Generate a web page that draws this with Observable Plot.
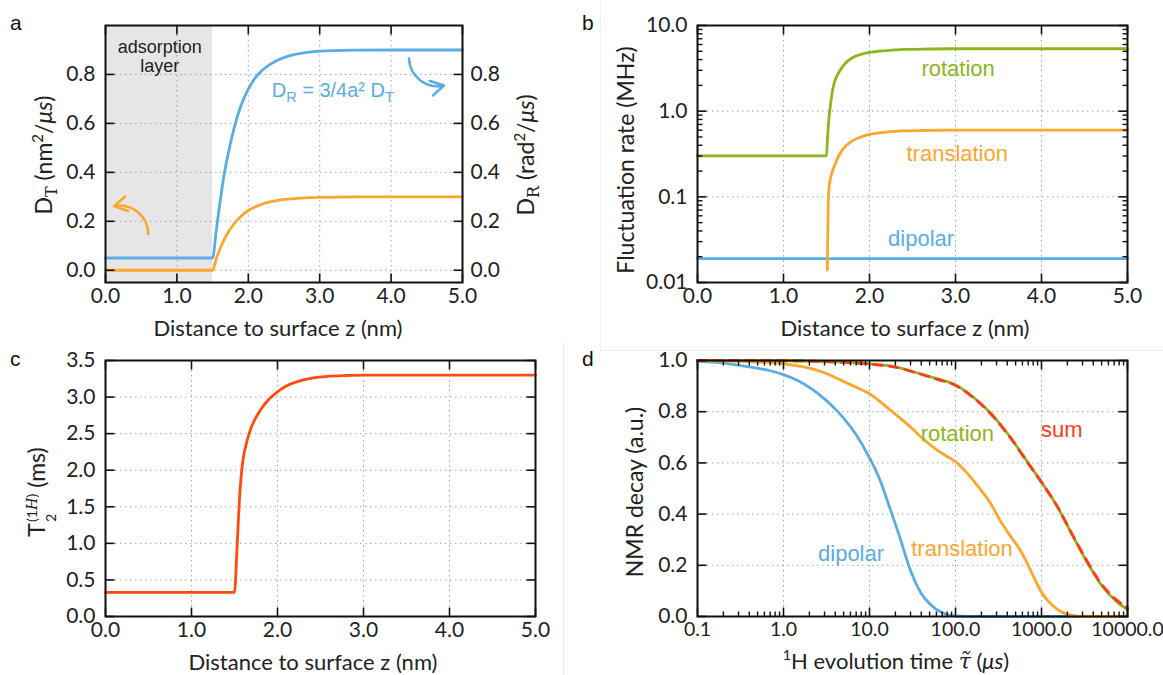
<!DOCTYPE html>
<html><head><meta charset="utf-8">
<script src="https://cdn.jsdelivr.net/npm/d3@7"></script>
<script src="https://cdn.jsdelivr.net/npm/@observablehq/plot@0.6"></script>
<style>
body{margin:0;background:#fff;}
#fig{position:relative;width:1163px;height:675px;overflow:hidden;background:#fff;}
.pl{position:absolute;}
.pl svg{overflow:visible;}
.lab{position:absolute;font-family:Lato,sans-serif;font-size:22px;color:#222;white-space:nowrap;transform:translate(-50%,-50%);line-height:1;}
.rot{transform:translate(-50%,-50%) rotate(-90deg);font-size:23px;}
.ann{position:absolute;font-family:"Liberation Sans",Arial,sans-serif;white-space:nowrap;transform:translate(-50%,-50%);line-height:1;}
.letter{position:absolute;font-family:"Liberation Sans",Arial,sans-serif;font-size:21px;color:#111;line-height:1;}
.sep{position:absolute;background:#efefef;}
sub,sup{line-height:0;}
.ss{display:inline-flex;flex-direction:column;font-size:0.62em;vertical-align:0.5em;line-height:1.3;margin-left:1px;}
</style></head><body><div id="fig"></div>
<script>
// ---------- data ----------
const zTicks = [0, 1, 2, 3, 4, 5];
const zTickLabels = ["0.0", "1.0", "2.0", "3.0", "4.0", "5.0"];
const dTicks = [0, 0.2, 0.4, 0.6, 0.8];
const dTickLabels = ["0.0", "0.2", "0.4", "0.6", "0.8"];
const rateTicks = [0.01, 0.1, 1, 10];
const rateTickLabels = ["0.01", "0.1", "1.0", "10.0"];
const t2Ticks = [0, 0.5, 1, 1.5, 2, 2.5, 3, 3.5];
const t2TickLabels = ["0.0", "0.5", "1.0", "1.5", "2.0", "2.5", "3.0", "3.5"];
const tauTicks = [0.1, 1, 10, 100, 1000, 10000];
const tauTickLabels = ["0.1", "1.0", "10.0", "100.0", "1000.0", "10000.0"];
const decayTicks = [0, 0.2, 0.4, 0.6, 0.8, 1.0];
const decayTickLabels = ["0.0", "0.2", "0.4", "0.6", "0.8", "1.0"];

// panel a: diffusion coefficients vs distance
const zA = [0, 1.5, 1.55, 1.6, 1.65, 1.7, 1.8, 1.9, 2.0, 2.1, 2.2, 2.3, 2.4, 2.6, 2.8, 3.0, 3.5, 4.0, 5.0];
const diffT = [0, 0, 0.046, 0.085, 0.118, 0.146, 0.19, 0.221, 0.244, 0.259, 0.271, 0.279, 0.285, 0.292, 0.296, 0.298, 0.3, 0.3, 0.3];
const diffR = [0.05, 0.05, 0.16, 0.27, 0.37, 0.45, 0.58, 0.675, 0.74, 0.787, 0.818, 0.84, 0.857, 0.878, 0.889, 0.895, 0.899, 0.9, 0.9];
const layerSpan = [0, 1.5];

// panel b: fluctuation rates
const zRot = [0, 1.5, 1.51, 1.52, 1.53, 1.54, 1.56, 1.58, 1.6, 1.65, 1.7, 1.8, 1.9, 2.0, 2.2, 2.4, 2.7, 3.0, 5.0];
const rateRot = [0.3, 0.3, 0.45, 0.65, 0.85, 1.05, 1.5, 1.95, 2.3, 2.9, 3.45, 4.2, 4.6, 4.85, 5.1, 5.25, 5.32, 5.35, 5.35];
const zTra = [1.51, 1.515, 1.52, 1.53, 1.55, 1.6, 1.65, 1.7, 1.8, 1.9, 2.0, 2.2, 2.4, 2.6, 3.0, 5.0];
const rateTra = [0.014, 0.04, 0.08, 0.13, 0.17, 0.24, 0.31, 0.37, 0.45, 0.5, 0.535, 0.57, 0.588, 0.595, 0.6, 0.6];
const zDip = [0, 5];
const rateDip = [0.019, 0.019];

// panel c: T2
const zT2 = [0, 1.5, 1.51, 1.52, 1.54, 1.56, 1.58, 1.6, 1.65, 1.7, 1.8, 1.9, 2.0, 2.1, 2.2, 2.4, 2.6, 2.8, 3.0, 5.0];
const t2 = [0.33, 0.33, 0.45, 0.7, 1.2, 1.65, 1.95, 2.15, 2.42, 2.6, 2.82, 2.97, 3.07, 3.15, 3.2, 3.26, 3.285, 3.295, 3.3, 3.3];

// panel d: NMR decays
const tauDip = [0.1, 0.2, 0.4, 0.7, 1, 1.5, 2, 3, 4, 5, 7, 10, 13, 17, 22, 30, 40, 50, 70, 100, 200, 10000];
const decayDip = [0.997, 0.99, 0.975, 0.96, 0.945, 0.92, 0.895, 0.85, 0.81, 0.775, 0.71, 0.62, 0.54, 0.43, 0.32, 0.18, 0.09, 0.05, 0.015, 0.002, 0, 0];
const tauTra = [0.1, 0.3, 1, 2, 3, 5, 7, 10, 15, 20, 30, 40, 60, 80, 100, 130, 170, 250, 340, 460, 560, 700, 1000, 1500, 2300, 3000, 10000];
const decayTra = [1.0, 0.997, 0.987, 0.97, 0.952, 0.918, 0.895, 0.87, 0.825, 0.79, 0.74, 0.7, 0.652, 0.625, 0.605, 0.568, 0.522, 0.447, 0.368, 0.303, 0.262, 0.2, 0.095, 0.03, 0.004, 0.0, 0.0];
const tauRot = [0.1, 1, 5, 10, 20, 34, 62, 94, 153, 250, 420, 690, 1000, 1500, 2300, 3400, 5000, 7600, 10000];
const decayRot = [1.0, 0.999, 0.993, 0.987, 0.975, 0.954, 0.928, 0.909, 0.863, 0.798, 0.707, 0.603, 0.525, 0.434, 0.316, 0.212, 0.121, 0.056, 0.027];
const tauSum = [0.1, 1, 5, 10, 20, 34, 62, 94, 153, 250, 420, 690, 1000, 1500, 2300, 3400, 5000, 7600, 10000];
const decaySum = [1.0, 0.999, 0.993, 0.986, 0.974, 0.953, 0.926, 0.907, 0.861, 0.796, 0.705, 0.601, 0.524, 0.434, 0.318, 0.215, 0.126, 0.062, 0.034];

// annotations (data units)
const layerLabel = [{x: 0.76, y: 0.91, text: "adsorption"}, {x: 0.76, y: 0.835, text: "layer"}];
const eqPos = [3.19, 0.735];
const arrowBlue = [{x1: 4.25, y1: 0.865, x2: 4.74, y2: 0.755}];
const arrowOrange = [{x1: 0.6, y1: 0.148, x2: 0.12, y2: 0.262}];
const labelsB = [
  {x: 3.03, y: 3.1, text: "rotation", series: "rot"},
  {x: 3.02, y: 0.32, text: "translation", series: "tra"},
  {x: 2.6, y: 0.032, text: "dipolar", series: "dip"}
];
const labelsD = [
  {x: 6.1, y: 0.245, text: "dipolar", series: "dip"},
  {x: 119, y: 0.264, text: "translation", series: "tra"},
  {x: 105, y: 0.714, text: "rotation", series: "rot"},
  {x: 1720, y: 0.727, text: "sum", series: "sum"}
];

// ---------- style ----------
const BLUE = "#5aace6", ORANGE = "#fca62e", GREEN = "#8cb61c", RED = "#ff4a10", SUMRED = "#ff3b1a";
const colorOf = {rot: GREEN, tra: ORANGE, dip: BLUE, sum: SUMRED};
const FONT = "Lato, 'Open Sans', sans-serif";
const ANNFONT = "'Liberation Sans', Arial, sans-serif";
const LW = 2.8;
const gridStyle = {stroke: "#9a9a9a", strokeOpacity: 0.9, strokeWidth: 1, strokeDasharray: "1.5,3.5"};

const fig = document.getElementById("fig");
const zip = (xs, ys, k1, k2) => xs.map((x, i) => ({[k1]: x, [k2]: ys[i]}));
const fmt = (ticks, labels) => d => labels[ticks.findIndex(t => Math.abs(t - d) < 1e-9 * Math.max(1, Math.abs(t)))];
function logMinor(lo, hi) {
  const out = [];
  for (let e = Math.round(Math.log10(lo)); e < Math.round(Math.log10(hi)); e++) for (let k = 2; k <= 9; k++) out.push(k * Math.pow(10, e));
  return out;
}
// value located a given fraction along a scale domain (for pixel-length inward ticks)
const along = (type, [a, b], f) => type === "log" ? a * Math.pow(b / a, f) : a + (b - a) * f;
function frameTicks({xT, yT, xs, ys, iw, ih, len, sw = 1.6}) {
  const s = {stroke: "#111", strokeWidth: sw};
  const out = [];
  const [ya, yb] = ys.domain, [xa, xb] = xs.domain;
  const yLo = along(ys.type, ys.domain, len / ih), yHi = along(ys.type, ys.domain, 1 - len / ih);
  const xLo = along(xs.type, xs.domain, len / iw), xHi = along(xs.type, xs.domain, 1 - len / iw);
  if (xT) {
    out.push(Plot.link(xT, {x1: d => d, x2: d => d, y1: () => ya, y2: () => yLo, ...s}));
    out.push(Plot.link(xT, {x1: d => d, x2: d => d, y1: () => yHi, y2: () => yb, ...s}));
  }
  if (yT) {
    out.push(Plot.link(yT, {y1: d => d, y2: d => d, x1: () => xa, x2: () => xLo, ...s}));
    out.push(Plot.link(yT, {y1: d => d, y2: d => d, x1: () => xHi, x2: () => xb, ...s}));
  }
  return out;
}
function base(w, h, m) {
  return {width: w, height: h, marginTop: m[0], marginRight: m[1], marginBottom: m[2], marginLeft: m[3],
    style: {fontFamily: FONT, fontSize: "21px", color: "#222", background: "transparent", overflow: "visible"}};
}
function place(svg, left, top) {
  const d = document.createElement("div");
  d.className = "pl"; d.style.left = left + "px"; d.style.top = top + "px";
  d.appendChild(svg); fig.appendChild(d);
}
function addHTML(cls, html, x, y, extra = "") {
  const d = document.createElement("div");
  d.className = cls; d.innerHTML = html;
  d.style.cssText += `left:${x}px;top:${y}px;` + extra;
  fig.appendChild(d);
  return d;
}
function xAxisLabels(ticks, labels, size = 21) {
  return Plot.axisX(ticks, {tickSize: 0, tickPadding: 6, tickFormat: fmt(ticks, labels), label: null, fill: "#222", fontSize: size});
}
function yAxisLabels(ticks, labels, anchor = "left", pad = 10) {
  return Plot.axisY(ticks, {anchor, tickSize: 0, tickPadding: pad, tickFormat: fmt(ticks, labels), label: null, fill: "#222"});
}

// faint image borders
addHTML("sep", "", 600, 0, "width:1px;height:350px;");
addHTML("sep", "", 600, 350, "width:563px;height:1px;");
addHTML("sep", "", 563, 342, "width:1px;height:333px;");

// ---------- panel a ----------
{
  const W = 580, H = 340, M = [25, 118, 58, 105];
  const iw = W - M[1] - M[3], ih = H - M[0] - M[2];
  const xs = {type: "linear", domain: [0, 5]}, ys = {type: "linear", domain: [-0.05, 1.0]};
  const plotA = Plot.plot({
    ...base(W, H, M),
    x: {...xs, axis: null},
    y: {...ys, axis: null},
    marks: [
      Plot.rect([layerSpan], {x1: d => d[0], x2: d => d[1], y1: d => ys.domain[0], y2: d => ys.domain[1], fill: "#e6e6e6"}),
      Plot.gridX(zTicks, gridStyle),
      Plot.gridY(dTicks, gridStyle),
      Plot.line(zip(zA, diffT, "z", "v"), {x: "z", y: "v", stroke: ORANGE, strokeWidth: LW, curve: "monotone-x"}),
      Plot.line(zip(zA, diffR, "z", "v"), {x: "z", y: "v", stroke: BLUE, strokeWidth: LW, curve: "monotone-x"}),
      Plot.text(layerLabel, {x: "x", y: "y", text: "text", fontFamily: ANNFONT, fontSize: 18, fill: "#222"}),
      Plot.arrow(arrowBlue, {x1: "x1", y1: "y1", x2: "x2", y2: "y2", bend: -50, stroke: BLUE, strokeWidth: 2.6, headLength: 9}),
      Plot.arrow(arrowOrange, {x1: "x1", y1: "y1", x2: "x2", y2: "y2", bend: -50, stroke: ORANGE, strokeWidth: 2.6, headLength: 9}),
      ...frameTicks({xT: zTicks, yT: dTicks, xs, ys, iw, ih, len: 9}),
      Plot.frame({stroke: "#111", strokeWidth: 2}),
      xAxisLabels(zTicks, zTickLabels),
      yAxisLabels(dTicks, dTickLabels, "left", 10),
      yAxisLabels(dTicks, dTickLabels, "right", 8)
    ]
  });
  place(plotA, 0, 0);
  const ex = plotA.scale("x").apply(eqPos[0]), ey = plotA.scale("y").apply(eqPos[1]);
  addHTML("ann", `D<sub style="font-size:0.72em">R</sub> = 3/4a² D<sub style="font-size:0.72em">T</sub>`, ex, ey, `font-size:20px;color:${BLUE};`);
  addHTML("lab rot", `D<sub style="font-family:'DejaVu Serif',serif;font-size:0.7em">T</sub> (nm<sup style="font-size:0.65em">2</sup>/<i>μs</i>)`, 43, 155);
  addHTML("lab rot", `D<sub style="font-family:'DejaVu Serif',serif;font-size:0.7em">R</sub> (rad<sup style="font-size:0.65em">2</sup>/<i>μs</i>)`, 525, 155);
  addHTML("lab", "Distance to surface z (nm)", 278, 328);
  addHTML("letter", "a", 10, 12);
}

// ---------- panel b ----------
{
  const W = 583, H = 340, M = [25, 36, 58, 117];
  const iw = W - M[1] - M[3], ih = H - M[0] - M[2];
  const xs = {type: "linear", domain: [0, 5]}, ys = {type: "log", domain: [0.01, 10]};
  const minor = logMinor(0.01, 10);
  const plotB = Plot.plot({
    ...base(W, H, M),
    x: {...xs, axis: null},
    y: {...ys, axis: null},
    marks: [
      Plot.gridX(zTicks, gridStyle),
      Plot.gridY(rateTicks, gridStyle),
      Plot.line(zip(zDip, rateDip, "z", "v"), {x: "z", y: "v", stroke: BLUE, strokeWidth: LW}),
      Plot.line(zip(zTra, rateTra, "z", "v"), {x: "z", y: "v", stroke: ORANGE, strokeWidth: LW, curve: "monotone-x"}),
      Plot.line(zip(zRot, rateRot, "z", "v"), {x: "z", y: "v", stroke: GREEN, strokeWidth: LW, curve: "monotone-x"}),
      ...labelsB.map(l => Plot.text([l], {x: "x", y: "y", text: "text", fill: colorOf[l.series], fontFamily: ANNFONT, fontSize: 22})),
      ...frameTicks({xT: zTicks, yT: rateTicks, xs, ys, iw, ih, len: 9}),
      ...frameTicks({yT: minor, xs, ys, iw, ih, len: 5, sw: 1.4}),
      Plot.frame({stroke: "#111", strokeWidth: 2}),
      xAxisLabels(zTicks, zTickLabels),
      yAxisLabels(rateTicks, rateTickLabels, "left", 10)
    ]
  });
  place(plotB, 580, 0);
  addHTML("lab rot", "Fluctuation rate (MHz)", 625, 160);
  addHTML("lab", "Distance to surface z (nm)", 905, 328);
  addHTML("letter", "b", 582, 12);
}

// ---------- panel c ----------
{
  const W = 580, H = 340, M = [25, 45, 59, 105];
  const iw = W - M[1] - M[3], ih = H - M[0] - M[2];
  const xs = {type: "linear", domain: [0, 5]}, ys = {type: "linear", domain: [0, 3.5]};
  const plotC = Plot.plot({
    ...base(W, H, M),
    x: {...xs, axis: null},
    y: {...ys, axis: null},
    marks: [
      Plot.gridX(zTicks, gridStyle),
      Plot.gridY(t2Ticks, gridStyle),
      Plot.line(zip(zT2, t2, "z", "v"), {x: "z", y: "v", stroke: RED, strokeWidth: LW, curve: "monotone-x"}),
      ...frameTicks({xT: zTicks, yT: t2Ticks, xs, ys, iw, ih, len: 9}),
      Plot.frame({stroke: "#111", strokeWidth: 2}),
      xAxisLabels(zTicks, zTickLabels),
      yAxisLabels(t2Ticks, t2TickLabels, "left", 10)
    ]
  });
  place(plotC, 0, 335);
  addHTML("lab rot", `T<span class="ss"><span>(1<i style="font-family:'DejaVu Serif',serif">H</i>)</span><span>2</span></span> (ms)`, 42, 492);
  addHTML("lab", "Distance to surface z (nm)", 313, 662);
  addHTML("letter", "c", 10, 348);
}

// ---------- panel d ----------
{
  const W = 583, H = 340, M = [25, 36, 59, 117];
  const iw = W - M[1] - M[3], ih = H - M[0] - M[2];
  const xs = {type: "log", domain: [0.1, 10000]}, ys = {type: "linear", domain: [0, 1]};
  const minor = logMinor(0.1, 10000);
  const plotD = Plot.plot({
    ...base(W, H, M),
    x: {...xs, axis: null},
    y: {...ys, axis: null},
    marks: [
      Plot.gridX(tauTicks, gridStyle),
      Plot.gridY(decayTicks, gridStyle),
      Plot.line(zip(tauDip, decayDip, "t", "v"), {x: "t", y: "v", stroke: BLUE, strokeWidth: LW, curve: "monotone-x"}),
      Plot.line(zip(tauTra, decayTra, "t", "v"), {x: "t", y: "v", stroke: ORANGE, strokeWidth: LW, curve: "monotone-x"}),
      Plot.line(zip(tauRot, decayRot, "t", "v"), {x: "t", y: "v", stroke: GREEN, strokeWidth: LW, curve: "monotone-x"}),
      Plot.line(zip(tauSum, decaySum, "t", "v"), {x: "t", y: "v", stroke: SUMRED, strokeWidth: LW, strokeDasharray: "9,7", curve: "monotone-x"}),
      ...labelsD.map(l => Plot.text([l], {x: "x", y: "y", text: "text", fill: colorOf[l.series], fontFamily: ANNFONT, fontSize: 22})),
      ...frameTicks({xT: tauTicks, yT: decayTicks, xs, ys, iw, ih, len: 9}),
      ...frameTicks({xT: minor, xs, ys, iw, ih, len: 5, sw: 1.4}),
      Plot.frame({stroke: "#111", strokeWidth: 2}),
      xAxisLabels(tauTicks, tauTickLabels, 19.5),
      yAxisLabels(decayTicks, decayTickLabels, "left", 10)
    ]
  });
  place(plotD, 580, 335);
  addHTML("lab rot", "NMR decay (a.u.)", 634, 492);
  addHTML("lab", `<sup style="font-size:0.65em">1</sup>H evolution time <i style="font-family:'DejaVu Serif',serif">τ̃</i> (<i>μs</i>)`, 896, 661);
  addHTML("letter", "d", 582, 348);
}
</script></body></html>
